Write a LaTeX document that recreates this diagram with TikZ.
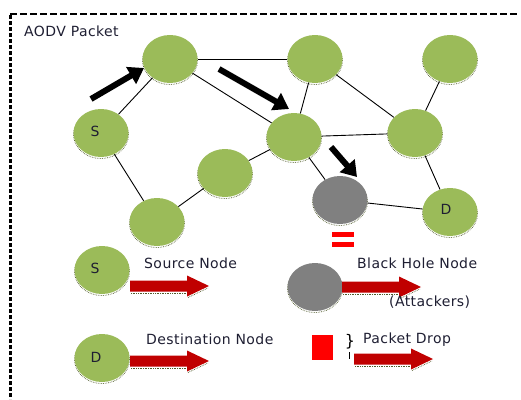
\documentclass[tikz,border=0pt]{standalone}
\usepackage{fontspec}
\setmainfont{DejaVu Sans}[LetterSpace=3]
\usetikzlibrary{arrows.meta,shapes.geometric}
\definecolor{nodegreen}{HTML}{9BBB59}
\definecolor{nodegray}{HTML}{808080}
\definecolor{arrred}{HTML}{C00000}
\definecolor{txt}{HTML}{1E1E32}
\definecolor{rimc}{HTML}{4F5A2A}
\tikzset{
  x=1pt,y=-1pt,
  netnode/.style={ellipse,minimum width=55pt,minimum height=48pt,inner sep=0pt,
     fill=nodegreen,
     preaction={draw=rimc,densely dotted,line width=0.7pt,transform canvas={yshift=-1.5pt}}},
  holenode/.style={netnode,fill=nodegray},
  edge/.style={draw=black,line width=0.9pt},
  flow/.style={line width=6pt,-{Triangle[length=15pt,width=19pt]}},
  lbl/.style={font=\fontsize{14}{16}\selectfont,text=txt,inner sep=0pt,anchor=west},
  nlbl/.style={font=\fontsize{14}{16}\selectfont,text=txt},
  pics/redarr/.style={code={
    \fill[arrred] (0,-5.5)--(57,-5.5)--(57,-10.5)--(79,0)--(57,10.5)--(57,5.5)--(0,5.5)--cycle;
    \draw[rimc,densely dotted,line width=0.7pt] (1,7)--(56,7);
    \draw[rimc,densely dotted,line width=0.7pt] (58,11.5)--(78,2);
  }}
}
\begin{document}
\begin{tikzpicture}
\useasboundingbox (0,0) rectangle (521,399);
% frame
\draw[line width=2pt,dash pattern=on 7pt off 3pt] (10,14)--(520,14);
\draw[line width=3pt,dash pattern=on 4pt off 2pt] (10,15)--(10,399);
\node[lbl] (title) at (24,31) {AODV Packet};
% network nodes
\node[netnode] (tl) at (170,59) {};
\node[netnode] (s) at (101,133) {};
\node[nlbl] (slbl) at (95,131) {S};
\node[netnode] (ml) at (225,173) {};
\node[netnode] (bl) at (157,222) {};
\node[netnode] (tm) at (315,59) {};
\node[netnode] (tr) at (450,59) {};
\node[netnode] (c) at (294,137) {};
\node[netnode] (r) at (415,133) {};
\node[holenode] (g) at (340,200) {};
\node[netnode] (d) at (450,212) {};
\node[nlbl] (dlbl) at (446,209) {D};
% links
\draw[edge] (tl) -- (tm);
\draw[edge] (tl) -- (c);
\draw[edge] (tl) -- (s);
\draw[edge] (s) -- (bl);
\draw[edge] (bl) -- (ml);
\draw[edge] (ml) -- (c);
\draw[edge] (tm) -- (c);
\draw[edge] (tm) -- (r);
\draw[edge] (tr) -- (r);
\draw[edge] (c) -- (r);
\draw[edge] (c) -- (g);
\draw[edge] (r) -- (d);
\draw[edge] (g) -- (d);
% flow arrows
\coordinate (f1a) at (91,99);  \coordinate (f1b) at (144,68);
\coordinate (f2a) at (219,69); \coordinate (f2b) at (289,109);
\coordinate (f3a) at (331,147);\coordinate (f3b) at (357,177);
\draw[flow] (f1a) -- (f1b);
\draw[flow] (f2a) -- (f2b);
\draw[flow] (f3a) -- (f3b);
% equals sign
\fill[red] (332,232) rectangle (354,237);
\fill[red] (332,242) rectangle (354,247);
% legend
\node[netnode] (ls) at (102,270) {};
\node[nlbl] (lslbl) at (95,268) {S};
\pic at (130,286) {redarr};
\node[lbl] (srct) at (144,263) {Source Node};
\node[netnode] (ld) at (102,358) {};
\node[nlbl] (ldlbl) at (96,357) {D};
\pic at (130,361) {redarr};
\node[lbl] (dstt) at (146,339) {Destination Node};
\node[holenode] (lg) at (315,287) {};
\pic at (342,287) {redarr};
\node[lbl] (bht) at (357,263) {Black Hole Node};
\node[lbl] (att) at (389,302) {(Attackers)};
\fill[red] (312,335) rectangle (333,360);
\node[font=\fontsize{16}{18}\selectfont,inner sep=0pt] (brace) at (350,342) {\}};
\draw[line width=1pt] (349.5,352)--(349.5,359);
\pic at (354,359) {redarr};
\node[lbl] (pdt) at (363,340) {Packet Drop};
\end{tikzpicture}
\end{document}
